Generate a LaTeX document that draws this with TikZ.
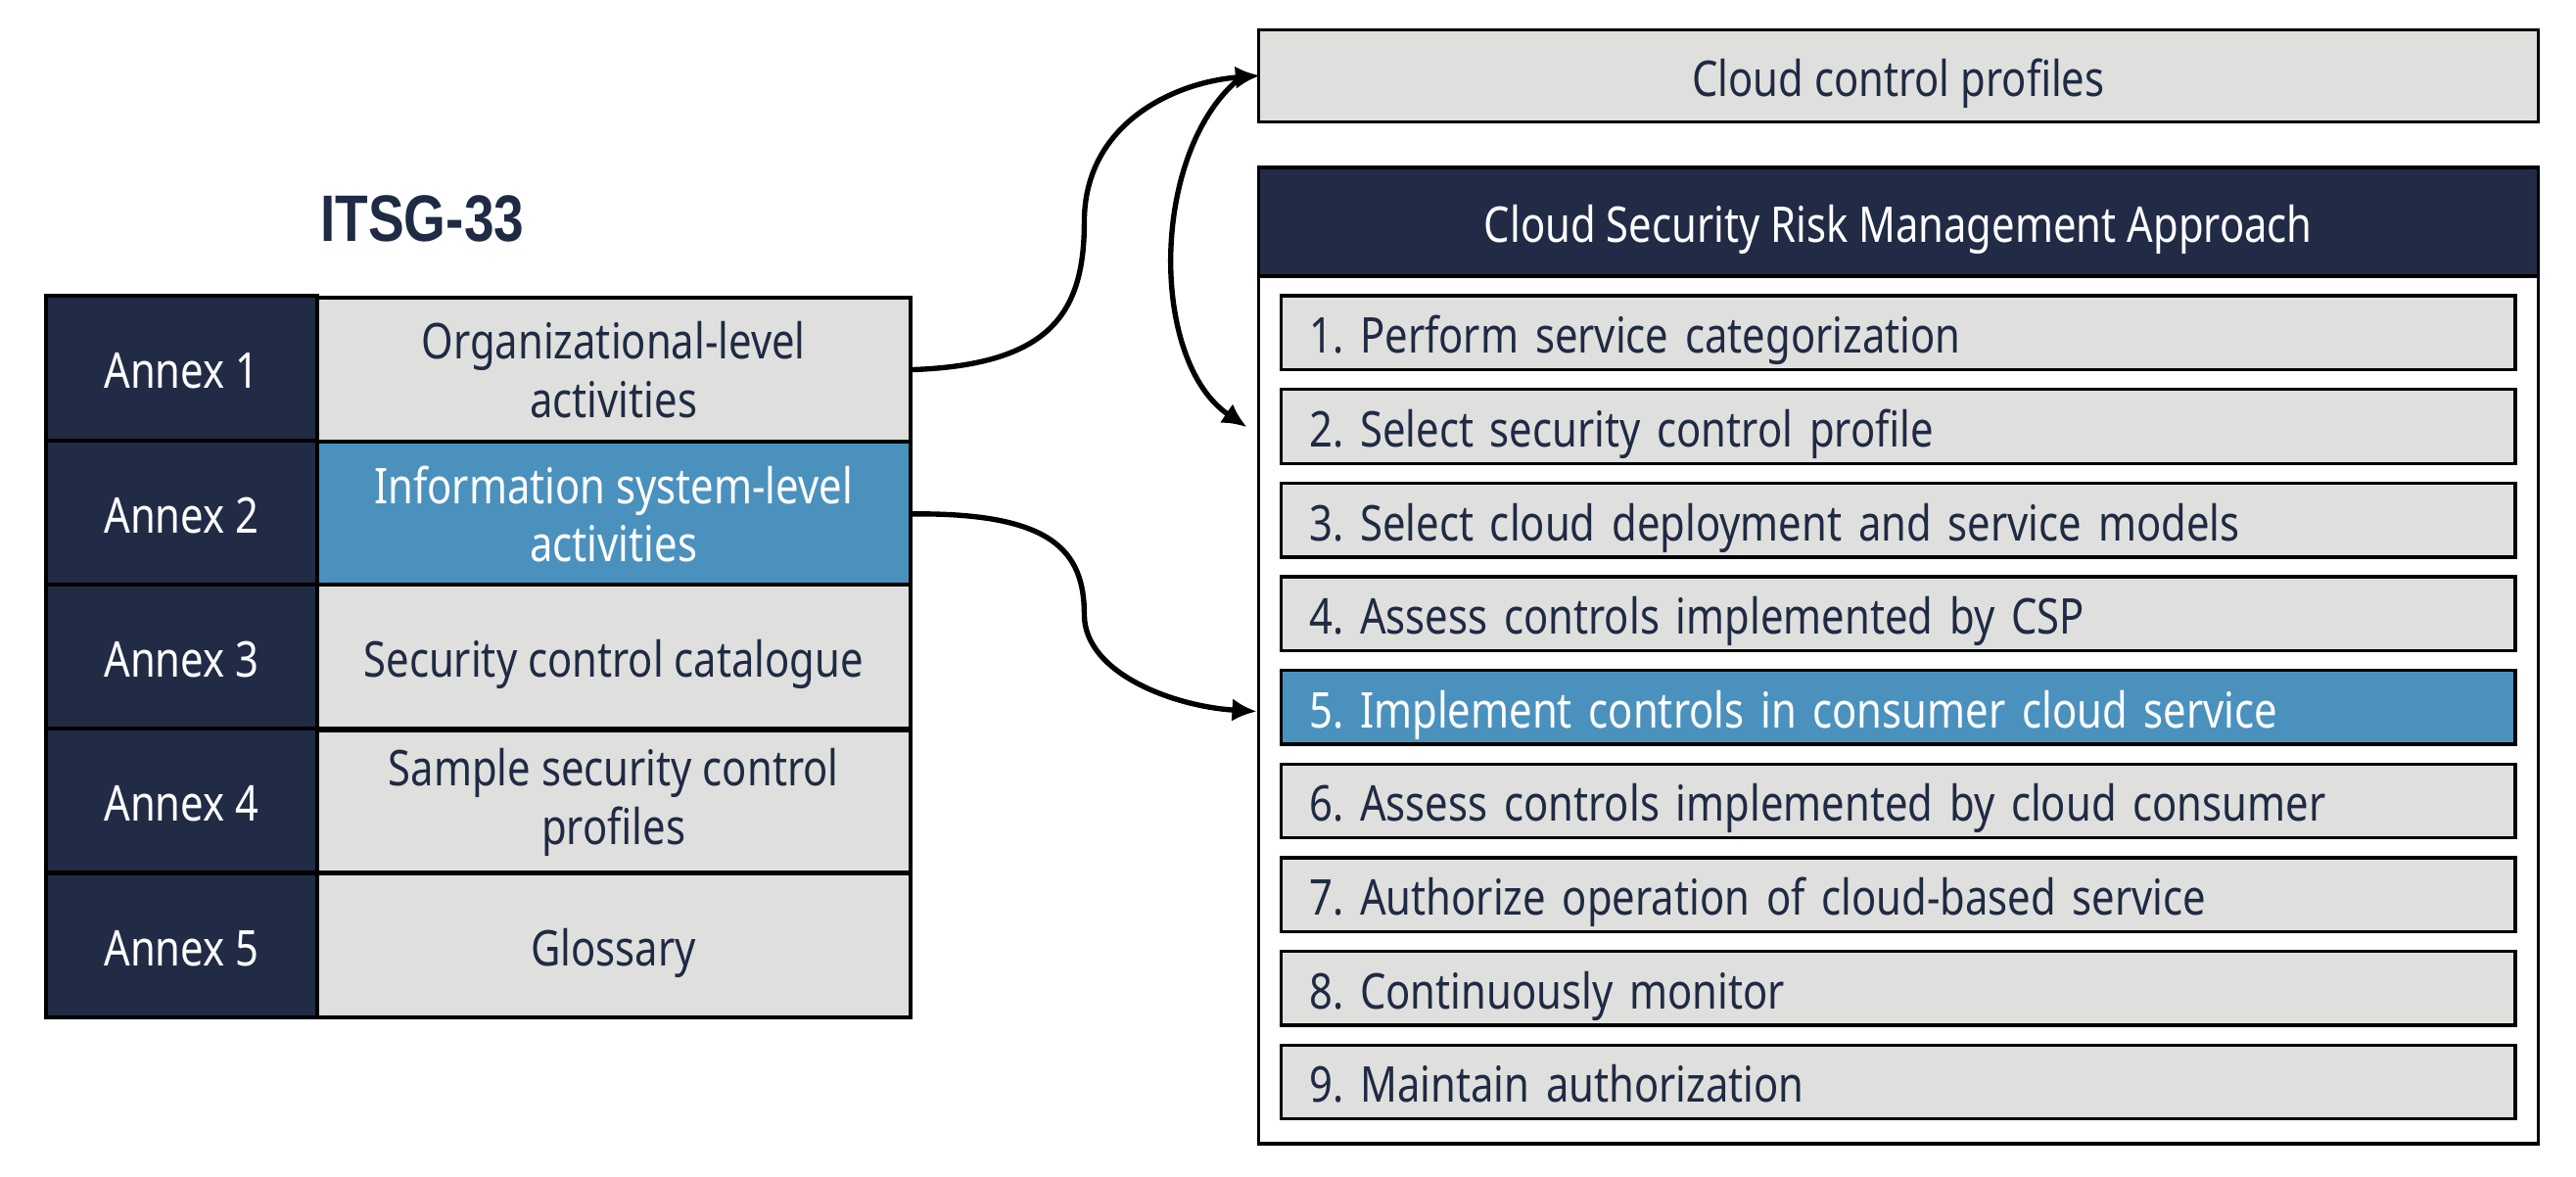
\documentclass[tikz,border=0pt]{standalone}
\usepackage{fontspec}
\setmainfont{Noto Sans}[FakeStretch=0.83]
\newfontfamily\titlefont{Liberation Sans}[FakeStretch=0.82]
\usetikzlibrary{arrows.meta}
\definecolor{navy}{HTML}{212B45}
\definecolor{lgrey}{HTML}{DFE0DD}
\definecolor{sblue}{HTML}{4A91BE}
\definecolor{tnavy}{HTML}{1F2A44}
\tikzset{
  basefont/.style={font=\fontsize{15}{17.8}\selectfont\frenchspacing},
  oneline/.style={text height=12.5pt, text depth=0pt},
  annexbox/.style={basefont, oneline, draw=black, line width=1.2pt, fill=navy, text=white,
    minimum width=82.5pt, minimum height=43.9pt, inner sep=0pt, align=center},
  cellbox/.style={basefont, draw=black, line width=1.2pt, fill=lgrey, text=tnavy,
    minimum width=180.5pt, minimum height=43.9pt, inner sep=0pt, align=center},
  hicell/.style={fill=sblue, text=white},
  stepbox/.style={basefont, oneline, draw=black, line width=1pt, fill=lgrey, text=tnavy,
    text width=358.5pt, inner xsep=8.5pt, inner ysep=0pt, minimum height=22.5pt, align=left},
  conn/.style={line width=1.6pt, -{Latex[length=7.5pt,width=7pt]}}
}
\begin{document}
\begin{tikzpicture}[x=0.5pt,y=-0.5pt]
\useasboundingbox (0,0) rectangle (1568,716.35);

% title
\node[font=\titlefont\fontsize{20}{22}\selectfont\bfseries, text=tnavy] (title) at (257,133) {ITSG-33};

% left table
\node[annexbox] (n1) at (110.5,224) {Annex 1};
\node[annexbox] (n2) at (110.5,311.8) {Annex 2};
\node[annexbox] (n3) at (110.5,399.6) {Annex 3};
\node[annexbox] (n4) at (110.5,487.4) {Annex 4};
\node[annexbox] (n5) at (110.5,575.2) {Annex 5};
\node[cellbox] (a1) at (373.5,225) {Organizational-level\\activities};
\node[cellbox,hicell] (a2) at (373.5,312.8) {Information system-level\\activities};
\node[cellbox,oneline] (a3) at (373.5,399.6) {Security control catalogue};
\node[cellbox] (a4) at (373.5,488.4) {Sample security control\\profiles};
\node[cellbox,oneline] (a5) at (373.5,575.2) {Glossary};

% right side
\node[basefont, oneline, draw=black, line width=1pt, fill=lgrey, text=tnavy,
  minimum width=389.5pt, minimum height=28pt, inner sep=0pt] (ccp) at (1155.5,46) {Cloud control profiles};
\node[draw=black, line width=1pt, fill=white, minimum width=389.5pt, minimum height=297pt, inner sep=0pt] (frame) at (1155.5,399) {};
\node[basefont, oneline, draw=black, line width=1pt, fill=navy, text=white,
  minimum width=389.5pt, minimum height=33pt, inner sep=0pt] (head) at (1155.5,135) {Cloud Security Risk Management Approach};

\node[stepbox] (s1) at (1155.5,202.5) {1. Perform service categorization};
\node[stepbox] (s2) at (1155.5,259.5) {2. Select security control profile};
\node[stepbox] (s3) at (1155.5,316.5) {3. Select cloud deployment and service models};
\node[stepbox] (s4) at (1155.5,373.5) {4. Assess controls implemented by CSP};
\node[stepbox, fill=sblue, text=white] (s5) at (1155.5,430.5) {5. Implement controls in consumer cloud service};
\node[stepbox] (s6) at (1155.5,487.5) {6. Assess controls implemented by cloud consumer};
\node[stepbox] (s7) at (1155.5,544.5) {7. Authorize operation of cloud-based service};
\node[stepbox] (s8) at (1155.5,601.5) {8. Continuously monitor};
\node[stepbox] (s9) at (1155.5,658.5) {9. Maintain authorization};

% connector end points
\coordinate (c1end) at (767,46);
\coordinate (c2start) at (753,49);
\coordinate (c2end) at (759,260);
\coordinate (c3end) at (765,433);

\draw[conn] (a1.east) .. controls (640,222) and (660,190) .. (660,135)
  .. controls (660,75) and (715,50) .. (c1end);
\draw[conn] (c2start) .. controls (700,95) and (700,220) .. (c2end);
\draw[conn] (a2.east) .. controls (640,312) and (660,335) .. (660,374)
  .. controls (660,410) and (715,430) .. (c3end);
\end{tikzpicture}
\end{document}
